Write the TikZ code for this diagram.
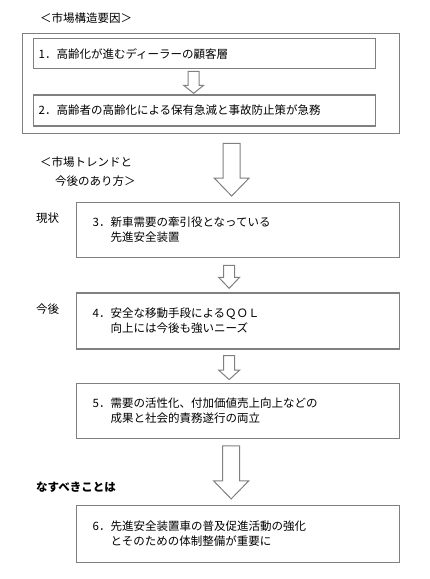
\documentclass[tikz,border=0pt]{standalone}
\usepackage{fontspec}
\setmainfont{Noto Sans CJK JP}
\usepackage{xcolor}
\usetikzlibrary{positioning,calc}
\definecolor{boxgray}{RGB}{128,128,128}
\newcommand{\indline}{\\\hspace*{18pt}}
\newcommand{\blkarrow}[5]{%
  \draw[blk arrow] ($(#1)+(-#3,0)$) -- ($(#1)+(#3,0)$) -- ($(#2)+(#3,-#5)$)
    -- ($(#2)+(#4,-#5)$) -- (#2) -- ($(#2)+(-#4,-#5)$) -- ($(#2)+(-#3,-#5)$) -- cycle;}
\tikzset{
  base font/.style={font=\fontsize{11.5}{15}\selectfont},
  outer frame/.style={
    rectangle,
    draw=boxgray,
    line width=1.3pt,
    minimum width=377pt,
    minimum height=100pt,
    inner sep=0pt,
  },
  cause box/.style={
    rectangle,
    draw=boxgray,
    line width=1.3pt,
    minimum width=342pt,
    minimum height=30pt,
    inner xsep=5pt,
    inner ysep=0pt,
    text width=332pt,
    align=left,
    base font,
  },
  trend box/.style={
    rectangle,
    draw=boxgray,
    line width=1.3pt,
    minimum width=323pt,
    minimum height=55pt,
    inner xsep=16pt,
    inner ysep=0pt,
    text width=291pt,
    align=left,
    base font,
  },
  side label/.style={anchor=west, align=left, inner sep=0pt, base font},
  blk arrow/.style={draw=boxgray, line width=1pt, fill=white, line join=miter},
}
\begin{document}
\begin{tikzpicture}[x=1pt,y=-1pt]
  \useasboundingbox[fill=white] (0,0) rectangle (430,579);

  \node[side label] (title1) at (40,18) {＜市場構造要因＞};
  \node[outer frame,anchor=north west] (outer) at (22,33) {};
  \node[cause box,anchor=north west] (cause1) at (33,38) {1．高齢化が進むディーラーの顧客層};
  \node[cause box,minimum height=31pt,below=25pt of cause1] (cause2) {2．高齢者の高齢化による保有急減と事故防止策が急務};

  \node[side label,font=\fontsize{11.5}{19}\selectfont] (title2) at (40,172) {＜市場トレンドと\\\hspace*{15pt}今後のあり方＞};

  \node[trend box,anchor=north west] (now) at (76,202) {3．新車需要の牽引役となっている\indline 先進安全装置};
  \node[trend box,minimum height=56pt,below=34pt of now] (future) {4．安全な移動手段によるＱＯＬ\indline 向上には今後も強いニーズ};
  \node[trend box,below=33pt of future] (both) {5．需要の活性化、付加価値売上向上などの\indline 成果と社会的責務遂行の両立};
  \node[trend box,minimum height=57pt,below=66pt of both] (todo) {6．先進安全装置車の普及促進活動の強化\indline とそのための体制整備が重要に};

  \node[side label] (lnow) at (36,218) {現状};
  \node[side label] (lfuture) at (36,309) {今後};
  \node[side label,font=\fontsize{11.5}{15}\selectfont\bfseries] (ltodo) at (36,487) {なすべきことは};

  \coordinate (a1s) at ($(cause1.south)+(-11,2)$);
  \coordinate (a1e) at ($(cause2.north)+(-11,-1)$);
  \coordinate (a2s) at ($(outer.south)+(20.5,9)$);
  \coordinate (a2e) at ($(now.north)+(-6.5,-6)$);
  \coordinate (a3s) at ($(now.south)+(-9,7)$);
  \coordinate (a3e) at ($(future.north)+(-9,-4)$);
  \coordinate (a4s) at ($(future.south)+(-9,6)$);
  \coordinate (a4e) at ($(both.north)+(-9,-3)$);
  \coordinate (a5s) at ($(both.south)+(-7,7)$);
  \coordinate (a5e) at ($(todo.north)+(-7,-6)$);

  \blkarrow{a1s}{a1e}{5.5}{10}{8}
  \blkarrow{a2s}{a2e}{8.5}{17.5}{18}
  \blkarrow{a3s}{a3e}{5.5}{10.5}{11}
  \blkarrow{a4s}{a4e}{5.5}{10.5}{9.5}
  \blkarrow{a5s}{a5e}{8.5}{17.5}{18}
\end{tikzpicture}
\end{document}
